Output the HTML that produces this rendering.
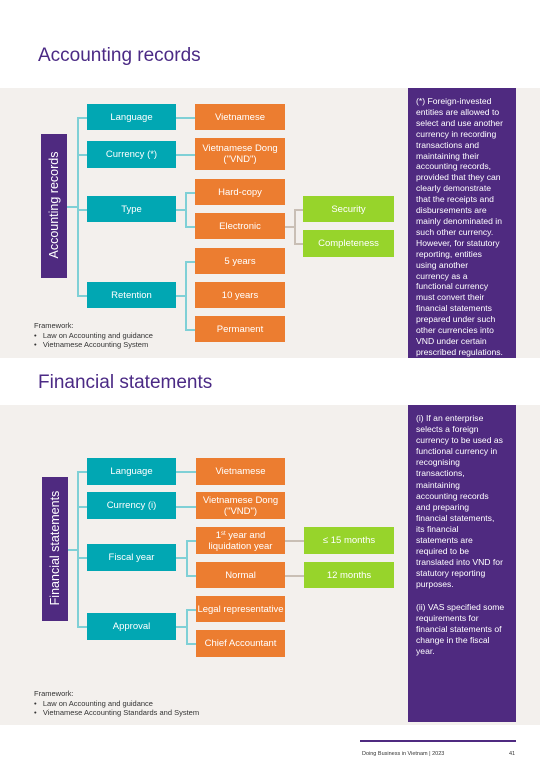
<!DOCTYPE html>
<html><head><meta charset="utf-8"><style>
*{margin:0;padding:0;box-sizing:border-box}
body{width:540px;height:780px;background:#fff;position:relative;overflow:hidden;font-family:"Liberation Sans",sans-serif}
.a{position:absolute}
.h{color:#4b2a85;font-size:19px;left:38px}
.band{background:#f3f0ed;left:0;width:540px}
.b{position:absolute;display:flex;align-items:center;justify-content:center;text-align:center;color:#fff;font-size:9.5px;line-height:11px}
.t{background:#01a7b3}.o{background:#ec7d30}.g{background:#97d42b}
.p{background:#4f2a80}
.v{position:absolute;color:#fff;font-size:12.5px;white-space:nowrap;transform:rotate(-90deg);transform-origin:center}
.l{position:absolute;background:#7fd0d6}
.lg{position:absolute;background:#c9bfb5}
.panel{position:absolute;background:#4f2a80;color:#fff;font-size:8.6px;line-height:10.9px;padding:8px 0 0 8px;left:408px;width:108px;white-space:nowrap;overflow:hidden}
.fw{position:absolute;left:34px;font-size:7.5px;line-height:9.5px;color:#333}
</style></head><body>
<div class="a h" style="top:45px">Accounting records</div>
<div class="a band" style="top:88px;height:270px"></div>
<div class="b p" style="left:41px;top:134px;width:26px;height:144px"></div>
<div class="v" style="left:-18px;top:198px;width:144px;text-align:center">Accounting records</div>
<div class="l" style="left:67px;top:206px;width:10px;height:1.5px"></div>
<div class="l" style="left:77px;top:117px;width:1.5px;height:178px"></div>
<div class="l" style="left:77px;top:117px;width:10px;height:1.5px"></div>
<div class="l" style="left:77px;top:154px;width:10px;height:1.5px"></div>
<div class="l" style="left:77px;top:209px;width:10px;height:1.5px"></div>
<div class="l" style="left:77px;top:295px;width:10px;height:1.5px"></div>
<div class="b t" style="left:87px;top:104px;width:89px;height:26px">Language</div>
<div class="b t" style="left:87px;top:141px;width:89px;height:27px">Currency (*)</div>
<div class="b t" style="left:87px;top:196px;width:89px;height:26px">Type</div>
<div class="b t" style="left:87px;top:282px;width:89px;height:26px">Retention</div>
<div class="l" style="left:176px;top:117px;width:19px;height:1.5px"></div>
<div class="l" style="left:176px;top:154px;width:19px;height:1.5px"></div>
<div class="l" style="left:176px;top:209px;width:10px;height:1.5px"></div>
<div class="l" style="left:185px;top:192px;width:1.5px;height:34px"></div>
<div class="l" style="left:185px;top:192px;width:10px;height:1.5px"></div>
<div class="l" style="left:185px;top:226px;width:10px;height:1.5px"></div>
<div class="l" style="left:176px;top:295px;width:10px;height:1.5px"></div>
<div class="l" style="left:185px;top:261px;width:1.5px;height:68px"></div>
<div class="l" style="left:185px;top:261px;width:10px;height:1.5px"></div>
<div class="l" style="left:185px;top:329px;width:10px;height:1.5px"></div>
<div class="b o" style="left:195px;top:104px;width:90px;height:26px">Vietnamese</div>
<div class="b o" style="left:195px;top:138px;width:90px;height:32px">Vietnamese Dong<br>("VND")</div>
<div class="b o" style="left:195px;top:179px;width:90px;height:26px">Hard-copy</div>
<div class="b o" style="left:195px;top:213px;width:90px;height:26px">Electronic</div>
<div class="b o" style="left:195px;top:248px;width:90px;height:26px">5 years</div>
<div class="b o" style="left:195px;top:282px;width:90px;height:26px">10 years</div>
<div class="b o" style="left:195px;top:316px;width:90px;height:26px">Permanent</div>
<div class="lg" style="left:285px;top:226px;width:9px;height:1.5px"></div>
<div class="lg" style="left:294px;top:209px;width:1.5px;height:34px"></div>
<div class="lg" style="left:294px;top:209px;width:9px;height:1.5px"></div>
<div class="lg" style="left:294px;top:243px;width:9px;height:1.5px"></div>
<div class="b g" style="left:303px;top:196px;width:91px;height:26px">Security</div>
<div class="b g" style="left:303px;top:230px;width:91px;height:27px">Completeness</div>
<div class="fw" style="top:321px">Framework:<br>•&nbsp;&nbsp;&nbsp;Law on Accounting and guidance<br>•&nbsp;&nbsp;&nbsp;Vietnamese Accounting System</div>
<div class="panel" style="top:88px;height:270px">(*) Foreign-invested<br>entities are allowed to<br>select and use another<br>currency in recording<br>transactions and<br>maintaining their<br>accounting records,<br>provided that they can<br>clearly demonstrate<br>that the receipts and<br>disbursements are<br>mainly denominated in<br>such other currency.<br>However, for statutory<br>reporting, entities<br>using another<br>currency as a<br>functional currency<br>must convert their<br>financial statements<br>prepared under such<br>other currencies into<br>VND under certain<br>prescribed regulations.</div>

<div class="a h" style="top:372px">Financial statements</div>
<div class="a band" style="top:405px;height:320px"></div>
<div class="b p" style="left:42px;top:477px;width:26px;height:144px"></div>
<div class="v" style="left:-17px;top:541px;width:144px;text-align:center">Financial statements</div>
<div class="l" style="left:68px;top:549px;width:10px;height:1.5px"></div>
<div class="l" style="left:77px;top:471px;width:1.5px;height:156px"></div>
<div class="l" style="left:77px;top:471px;width:10px;height:1.5px"></div>
<div class="l" style="left:77px;top:506px;width:10px;height:1.5px"></div>
<div class="l" style="left:77px;top:557px;width:10px;height:1.5px"></div>
<div class="l" style="left:77px;top:626px;width:10px;height:1.5px"></div>
<div class="b t" style="left:87px;top:458px;width:89px;height:27px">Language</div>
<div class="b t" style="left:87px;top:492px;width:89px;height:27px">Currency (i)</div>
<div class="b t" style="left:87px;top:544px;width:89px;height:27px">Fiscal year</div>
<div class="b t" style="left:87px;top:613px;width:89px;height:27px">Approval</div>
<div class="l" style="left:176px;top:471px;width:20px;height:1.5px"></div>
<div class="l" style="left:176px;top:506px;width:20px;height:1.5px"></div>
<div class="l" style="left:176px;top:557px;width:10px;height:1.5px"></div>
<div class="l" style="left:186px;top:540px;width:1.5px;height:35px"></div>
<div class="l" style="left:186px;top:540px;width:10px;height:1.5px"></div>
<div class="l" style="left:186px;top:575px;width:10px;height:1.5px"></div>
<div class="l" style="left:176px;top:626px;width:10px;height:1.5px"></div>
<div class="l" style="left:186px;top:609px;width:1.5px;height:35px"></div>
<div class="l" style="left:186px;top:609px;width:10px;height:1.5px"></div>
<div class="l" style="left:186px;top:643px;width:10px;height:1.5px"></div>
<div class="b o" style="left:196px;top:458px;width:89px;height:27px">Vietnamese</div>
<div class="b o" style="left:196px;top:492px;width:89px;height:27px">Vietnamese Dong<br>("VND")</div>
<div class="b o" style="left:196px;top:527px;width:89px;height:27px"><span>1<span style="font-size:6px;vertical-align:3px">st</span> year and<br>liquidation year</span></div>
<div class="b o" style="left:196px;top:562px;width:89px;height:26px">Normal</div>
<div class="b o" style="left:196px;top:596px;width:89px;height:26px">Legal representative</div>
<div class="b o" style="left:196px;top:630px;width:89px;height:27px">Chief Accountant</div>
<div class="lg" style="left:285px;top:540px;width:19px;height:1.5px"></div>
<div class="lg" style="left:285px;top:575px;width:19px;height:1.5px"></div>
<div class="b g" style="left:304px;top:527px;width:90px;height:27px">≤ 15 months</div>
<div class="b g" style="left:304px;top:562px;width:90px;height:26px">12 months</div>
<div class="fw" style="top:689px">Framework:<br>•&nbsp;&nbsp;&nbsp;Law on Accounting and guidance<br>•&nbsp;&nbsp;&nbsp;Vietnamese Accounting Standards and System</div>
<div class="panel" style="top:405px;height:317px;line-height:11.1px">(i) If an enterprise<br>selects a foreign<br>currency to be used as<br>functional currency in<br>recognising<br>transactions,<br>maintaining<br>accounting records<br>and preparing<br>financial statements,<br>its financial<br>statements are<br>required to be<br>translated into VND for<br>statutory reporting<br>purposes.<br><br>(ii) VAS specified some<br>requirements for<br>financial statements of<br>change in the fiscal<br>year.</div>

<div class="a" style="left:360px;top:740px;width:156px;height:1.5px;background:#4f2a80"></div>
<div class="a" style="left:362px;top:751px;font-size:5.5px;color:#333">Doing Business in Vietnam | 2023</div>
<div class="a" style="left:509px;top:751px;font-size:5.5px;color:#333">41</div>
</body></html>
